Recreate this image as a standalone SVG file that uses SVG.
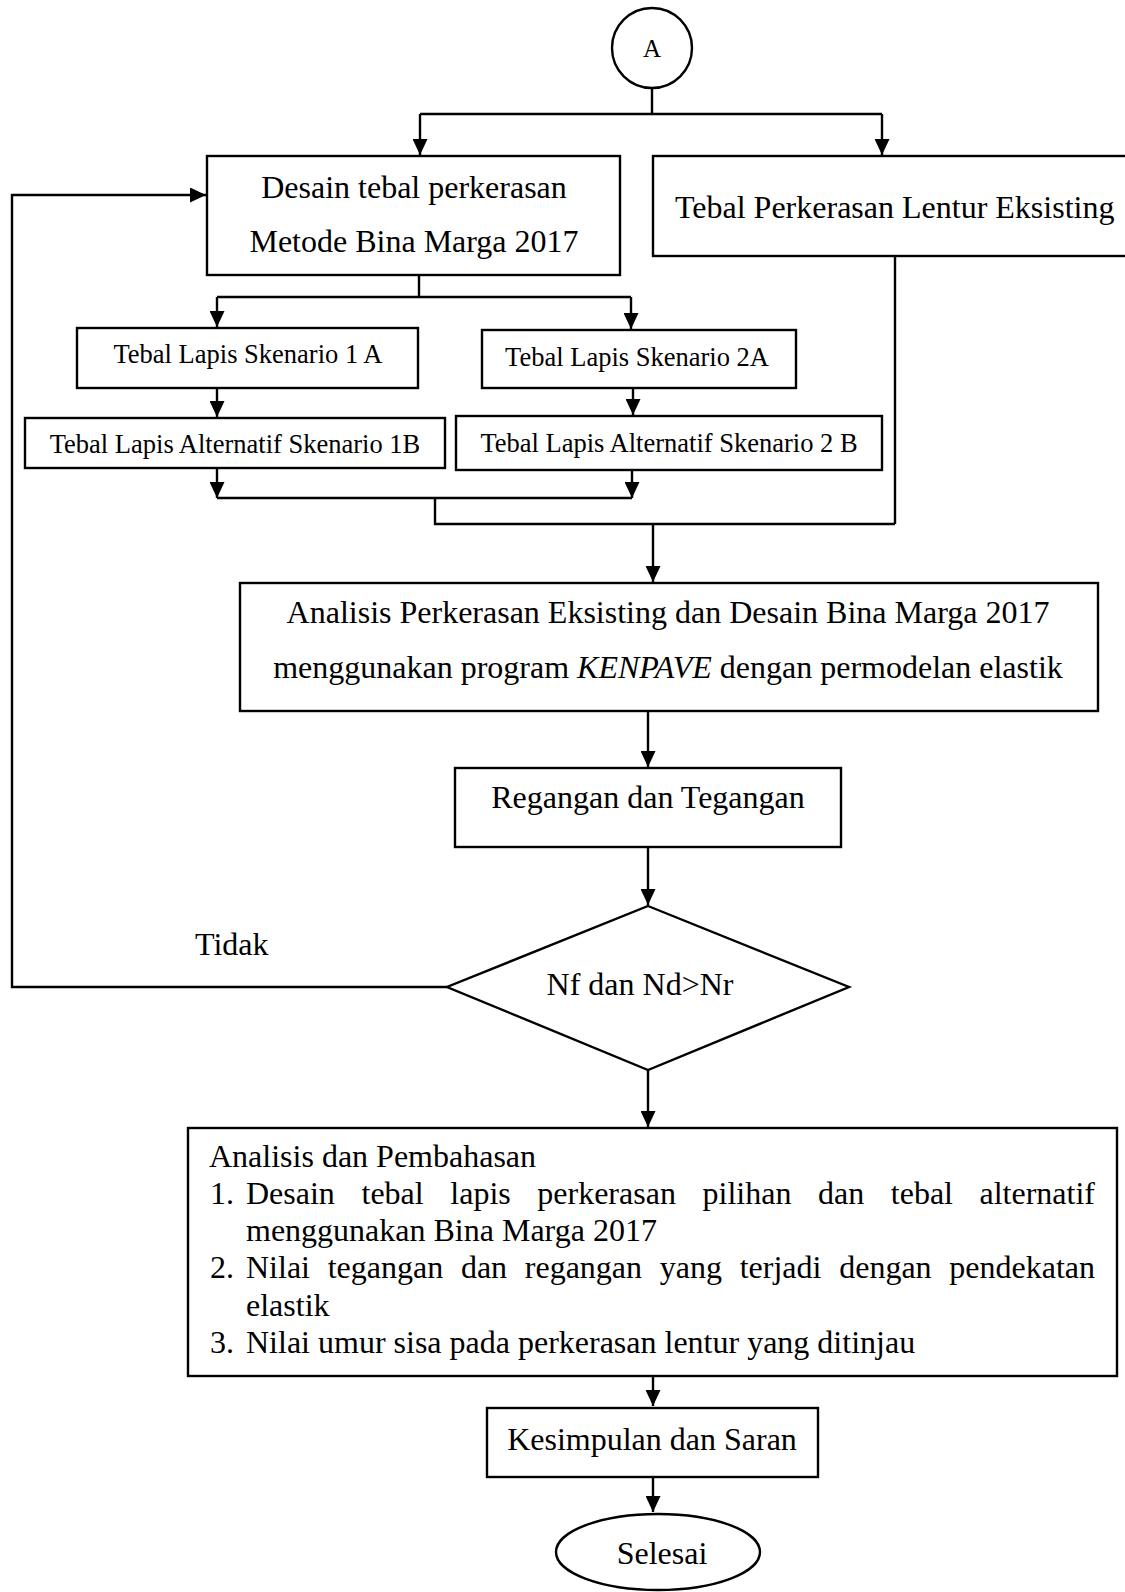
<svg xmlns="http://www.w3.org/2000/svg" width="1125" height="1592" viewBox="0 0 1125 1592">
  <style>
    .box { fill: #fff; stroke: #000; stroke-width: 2.4; }
    .wire { fill: none; stroke: #000; stroke-width: 2.4; }
    .t { font-family: "Liberation Serif", "Times New Roman", serif; font-size: 32px; fill: #000; }
    .s { font-family: "Liberation Serif", "Times New Roman", serif; font-size: 26.5px; fill: #000; }
    .c { text-anchor: middle; }
  </style>
  <defs>
    <marker id="arrow" markerUnits="userSpaceOnUse" markerWidth="17" markerHeight="15" refX="16" refY="7.5" orient="auto">
      <path d="M0,0 L16,7.5 L0,15 Z" fill="#000"/>
    </marker>
  </defs>
  <rect width="1125" height="1592" fill="#fff"/>

  <!-- connectors -->
  <g id="connectors">
    <path class="wire" d="M652 88 V114 M420 114 H882"/>
    <path class="wire" d="M420 114 V155" marker-end="url(#arrow)"/>
    <path class="wire" d="M882 114 V155" marker-end="url(#arrow)"/>
    <path class="wire" d="M419 275 V297 M217 297 H631"/>
    <path class="wire" d="M217 297 V327" marker-end="url(#arrow)"/>
    <path class="wire" d="M631 297 V329" marker-end="url(#arrow)"/>
    <path class="wire" d="M217 388 V417" marker-end="url(#arrow)"/>
    <path class="wire" d="M633 388 V415" marker-end="url(#arrow)"/>
    <path class="wire" d="M217 468 V498" marker-end="url(#arrow)"/>
    <path class="wire" d="M632 470 V498" marker-end="url(#arrow)"/>
    <path class="wire" d="M217 498 H632 M435 498 V524 H895 M895 256 V524"/>
    <path class="wire" d="M653 524 V582" marker-end="url(#arrow)"/>
    <path class="wire" d="M648 711 V767" marker-end="url(#arrow)"/>
    <path class="wire" d="M648 847 V905" marker-end="url(#arrow)"/>
    <path class="wire" d="M447 987 H12 V195 H206" marker-end="url(#arrow)"/>
    <path class="wire" d="M648 1070 V1127" marker-end="url(#arrow)"/>
    <path class="wire" d="M653 1376 V1406" marker-end="url(#arrow)"/>
    <path class="wire" d="M653 1477 V1512" marker-end="url(#arrow)"/>
    <text class="t" x="195" y="955">Tidak</text>
  </g>

  <!-- start connector A -->
  <g id="node-a">
    <circle class="box" cx="652" cy="48" r="40"/>
    <text class="t c" x="652" y="57" style="font-size:25px">A</text>
  </g>

  <g id="node-desain">
    <rect class="box" x="207" y="156" width="413" height="119"/>
    <text class="t c" x="414" y="198">Desain tebal perkerasan</text>
    <text class="t c" x="414" y="252">Metode Bina Marga 2017</text>
  </g>

  <g id="node-eksisting">
    <rect class="box" x="653" y="156" width="490" height="100"/>
    <text class="t" x="675" y="218">Tebal Perkerasan Lentur Eksisting</text>
  </g>

  <g id="node-1a">
    <rect class="box" x="77" y="328" width="341" height="60"/>
    <text class="s c" x="248" y="363">Tebal Lapis Skenario 1 A</text>
  </g>

  <g id="node-2a">
    <rect class="box" x="482" y="330" width="314" height="58"/>
    <text class="s c" x="637" y="366">Tebal Lapis Skenario 2A</text>
  </g>

  <g id="node-1b">
    <rect class="box" x="25" y="418" width="420" height="50"/>
    <text class="s c" x="235" y="453">Tebal Lapis Alternatif Skenario 1B</text>
  </g>

  <g id="node-2b">
    <rect class="box" x="456" y="416" width="426" height="54"/>
    <text class="s c" x="669" y="452">Tebal Lapis Alternatif Skenario 2 B</text>
  </g>

  <g id="node-kenpave">
    <rect class="box" x="240" y="583" width="858" height="128"/>
    <text class="t c" x="668" y="623">Analisis Perkerasan Eksisting dan Desain Bina Marga 2017</text>
    <text class="t c" x="668" y="678">menggunakan program <tspan font-style="italic">KENPAVE</tspan> dengan permodelan elastik</text>
  </g>

  <g id="node-regangan">
    <rect class="box" x="455" y="768" width="386" height="79"/>
    <text class="t c" x="648" y="808">Regangan dan Tegangan</text>
  </g>

  <g id="node-cek">
    <polygon class="box" points="648,906 849,987 648,1070 447,987"/>
    <text class="t c" x="640" y="995">Nf dan Nd&gt;Nr</text>
  </g>

  <g id="node-pembahasan">
    <rect class="box" x="188" y="1128" width="929" height="248"/>
    <text class="t" x="209" y="1167">Analisis dan Pembahasan</text>
    <text class="t" y="1204"><tspan x="210">1.</tspan><tspan x="246">Desain</tspan><tspan x="361.5">tebal</tspan><tspan x="450.3">lapis</tspan><tspan x="537.3">perkerasan</tspan><tspan x="702.5">pilihan</tspan><tspan x="818">dan</tspan><tspan x="890.8">tebal</tspan><tspan x="979.5">alternatif</tspan></text>
    <text class="t" x="246" y="1241">menggunakan Bina Marga 2017</text>
    <text class="t" y="1278"><tspan x="210">2.</tspan><tspan x="246">Nilai</tspan><tspan x="327.7">tegangan</tspan><tspan x="460.9">dan</tspan><tspan x="524.8">regangan</tspan><tspan x="659.8">yang</tspan><tspan x="739.7">terjadi</tspan><tspan x="839.2">dengan</tspan><tspan x="949.3">pendekatan</tspan></text>
    <text class="t" x="246" y="1316">elastik</text>
    <text class="t" y="1353"><tspan x="210">3.</tspan><tspan x="246">Nilai umur sisa pada perkerasan lentur yang ditinjau</tspan></text>
  </g>

  <g id="node-kesimpulan">
    <rect class="box" x="487" y="1408" width="331" height="69"/>
    <text class="t c" x="652" y="1450">Kesimpulan dan Saran</text>
  </g>

  <g id="node-selesai">
    <ellipse class="box" cx="658" cy="1552" rx="102" ry="38"/>
    <text class="t c" x="662" y="1564">Selesai</text>
  </g>
</svg>
